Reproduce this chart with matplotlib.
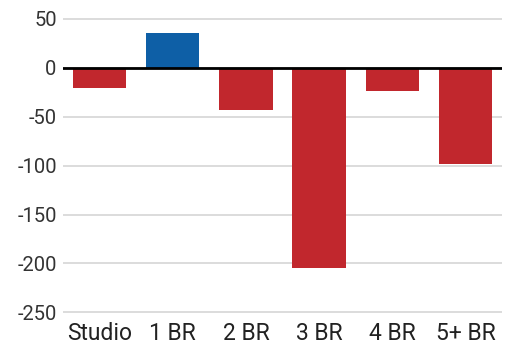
import matplotlib
matplotlib.use("Agg")
import matplotlib.pyplot as plt

categories = ["Studio", "1 BR", "2 BR", "3 BR", "4 BR", "5+ BR"]
values = [-21, 36, -43, -205, -24, -98]
yticks = [50, 0, -50, -100, -150, -200, -250]

plt.rcParams['font.family'] = ['Roboto', 'DejaVu Sans']

W, H = 507, 343
fig = plt.figure(figsize=(W / 100, H / 100), dpi=100)
left, right = 63, 502
top, bottom = 18.0, 313.3
ax = fig.add_axes([left / W, 1 - bottom / H, (right - left) / W, (bottom - top) / H])

colors = ["#0e5fa6" if v > 0 else "#c1272d" for v in values]
x = list(range(len(categories)))
ax.bar(x, values, width=0.73, color=colors, zorder=2)
ax.axhline(0, color="black", linewidth=2, zorder=3)

ax.set_xlim(-0.5, len(categories) - 0.5)
ax.set_ylim(-251, 51)
ax.set_yticks(yticks)
ax.set_yticklabels([str(t) for t in yticks])
ax.set_xticks(x)
ax.set_xticklabels(categories)
ax.grid(axis="y", color="#d6d6d6", linewidth=1.2, zorder=0)
ax.set_axisbelow(True)
for s in ax.spines.values():
    s.set_visible(False)
ax.tick_params(axis="y", length=0, pad=4.5, labelsize=14.5, labelcolor="#333333")
ax.tick_params(axis="x", length=0, pad=6, labelsize=16.5, labelcolor="#222222")

fig.savefig("out.png", dpi=100, facecolor="white")
